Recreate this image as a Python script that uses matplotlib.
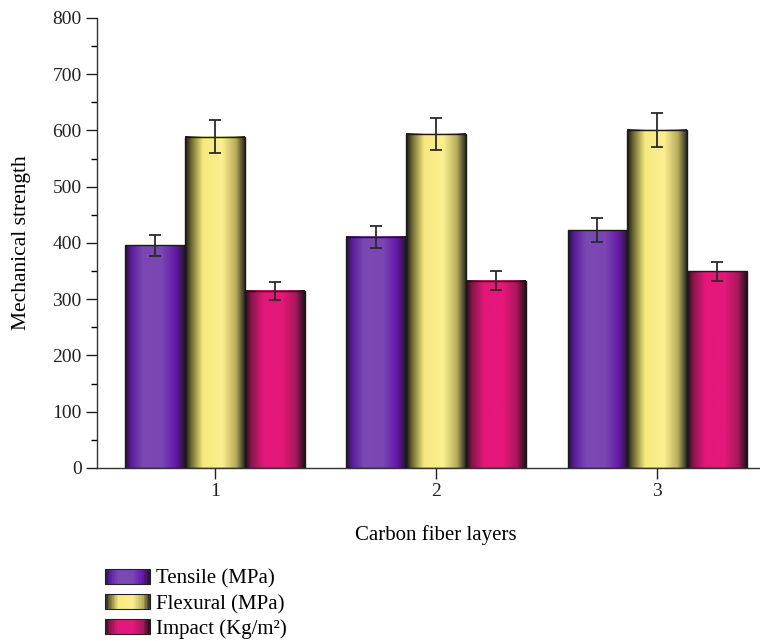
import numpy as np
import matplotlib.pyplot as plt
from matplotlib.colors import LinearSegmentedColormap
from matplotlib.legend_handler import HandlerBase
from matplotlib.patches import Rectangle

layers = [1, 2, 3]
series_names = ["Tensile (MPa)", "Flexural (MPa)", "Impact (Kg/m²)"]
tensile = [396, 411, 423]
flexural = [589, 594, 601]
impact = [315, 333, 350]
tensile_err = [19, 20, 21]
flexural_err = [29, 29, 30]
impact_err = [16, 17, 17]

plt.rcParams["font.family"] = ["Liberation Serif", "DejaVu Serif"]

# cylinder-like shading profiles (left -> right)
stops = [0.0, 0.1, 0.3, 0.62, 0.85, 1.0]
cmaps = [
    LinearSegmentedColormap.from_list("tens", list(zip(stops, ["#1e1624", "#5a1c9c", "#7b48b4", "#7b46b2", "#6418a8", "#24162c"]))),
    LinearSegmentedColormap.from_list("flex", list(zip(stops, ["#141414", "#6a6630", "#f6e97e", "#fbef90", "#b8ad5c", "#2a2820"]))),
    LinearSegmentedColormap.from_list("imp", list(zip(stops, ["#1c1016", "#86164a", "#e3187a", "#e5177a", "#a8185c", "#1e1218"]))),
]


class GradientHandler(HandlerBase):
    def __init__(self, cmap):
        super().__init__()
        self.cmap = cmap

    def create_artists(self, legend, orig_handle, xdescent, ydescent, width, height, fontsize, trans):
        n = 30
        arts = []
        for i in range(n):
            r = Rectangle((-xdescent + width * i / n, -ydescent), width / n + 0.3, height,
                          facecolor=self.cmap((i + 0.5) / n), edgecolor="none", transform=trans)
            arts.append(r)
        arts.append(Rectangle((-xdescent, -ydescent), width, height, facecolor="none",
                              edgecolor="#222222", lw=0.8, transform=trans))
        return arts


fig = plt.figure(figsize=(7.6, 6.41), dpi=100)
ax = fig.add_axes([0.1276, 0.270, 0.8724, 0.702])

x = np.array(layers, dtype=float)
w = 0.27
offsets = [-w, 0, w]
handles = []
for vals, errs, off, cm in zip([tensile, flexural, impact], [tensile_err, flexural_err, impact_err], offsets, cmaps):
    bars = ax.bar(x + off, vals, w, facecolor="none", edgecolor="#1a1a1a", linewidth=1.0, zorder=3)
    for r in bars:
        ax.imshow(np.linspace(0, 1, 256).reshape(1, -1), cmap=cm, aspect="auto",
                  extent=[r.get_x(), r.get_x() + r.get_width(), 0, r.get_height()], zorder=2)
    ax.errorbar(x + off, vals, yerr=errs, fmt="none", ecolor="#2a2a2a", elinewidth=1.3,
                capsize=4.5, capthick=1.3, zorder=4)
    handles.append(bars[0])

ax.set_xlim(0.466, 3.466)
ax.set_ylim(0, 800)
ax.set_xticks(layers)
ax.set_yticks(np.arange(0, 801, 100))
ax.set_yticks(np.arange(50, 800, 100), minor=True)
ax.tick_params(axis="both", which="major", direction="out", length=8, width=1, labelsize=14,
               colors="#222222", pad=3)
ax.tick_params(axis="y", which="minor", direction="out", length=4, width=1)
for s in ["top", "right"]:
    ax.spines[s].set_visible(False)
for s in ["left", "bottom"]:
    ax.spines[s].set_color("#333333")
    ax.spines[s].set_linewidth(1.0)

ax.set_ylabel("Mechanical strength", fontsize=15.5)
ax.yaxis.set_label_coords(-0.1, 0.5)
ax.set_xlabel("Carbon fiber layers", fontsize=15)
ax.xaxis.set_label_coords(0.511, -0.128)

fig.legend(handles, series_names, handler_map={h: GradientHandler(c) for h, c in zip(handles, cmaps)},
           loc="upper left", bbox_to_anchor=(0.138, 0.112), frameon=False, fontsize=15,
           handlelength=2.15, handleheight=0.72, labelspacing=0.26, handletextpad=0.3,
           borderpad=0, borderaxespad=0)

fig.savefig("out.png", dpi=100)
